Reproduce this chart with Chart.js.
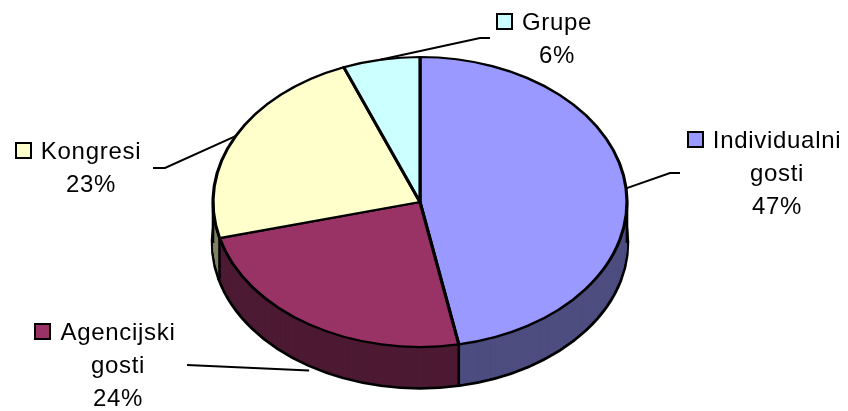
<!DOCTYPE html>
<html><head><meta charset="utf-8">
<script src="https://cdn.jsdelivr.net/npm/chart.js@4/dist/chart.umd.min.js"></script>
<style>html,body{margin:0;padding:0;background:#fff;}</style>
</head><body>
<canvas id="c" width="848" height="411"></canvas>
<script>
// ---- data ----
const categories = [['Individualni', 'gosti'], ['Agencijski', 'gosti'], ['Kongresi'], ['Grupe']];
const values = [47, 24, 23, 6];
// ---- styles ----
const topColors = ['#9999FF', '#993366', '#FFFFCC', '#CCFFFF'];
const sideColors = ['#4D4D80', '#4D1A33', '#808066', '#668080'];

const K = 145 / 207;   // vertical squash for the 3D tilt
const DEPTH = 41;      // thickness of the pie
const LINE_H = 33;

// label placement (text center x, first baseline y, leader elbow points)
const labelLayout = [
  { cx: 777, y: 148, elbow: [[680, 173], [670, 173]] },
  { cx: 118, y: 340, elbow: [[187, 365]], extra: 5 },
  { cx: 91,  y: 159, elbow: [[153, 168], [165, 168]] },
  { cx: 557, y: 30,  elbow: [[490, 38], [480, 38]] }
];

function drawLabels(chart) {
  const ctx = chart.ctx;
  const arcs = chart.getDatasetMeta(0).data;
  const total = values.reduce((a, b) => a + b, 0);
  ctx.save();
  ctx.font = '24px "Liberation Sans", Arial, sans-serif';
  try { ctx.letterSpacing = '0.7px'; } catch (e) {}
  ctx.textAlign = 'center';
  ctx.textBaseline = 'alphabetic';
  arcs.forEach((arc, i) => {
    const L = labelLayout[i];
    const lines = categories[i].concat([Math.round(values[i] / total * 100) + '%']);
    ctx.fillStyle = '#000';
    lines.forEach((t, j) => ctx.fillText(t, L.cx, L.y + j * LINE_H));
    const w = ctx.measureText(lines[0]).width;
    const kx = Math.round(L.cx - w / 2 - 10 - 15);
    ctx.fillStyle = topColors[i];
    ctx.fillRect(kx, L.y - 16, 15, 15);
    ctx.strokeStyle = '#000';
    ctx.lineWidth = 2;
    ctx.strokeRect(kx, L.y - 16, 15, 15);
    // leader line
    const mid = (arc.startAngle + arc.endAngle) / 2;
    const px = arc.x + arc.outerRadius * Math.cos(mid);
    let py = arc.y + arc.outerRadius * K * Math.sin(mid);
    if (Math.sin(mid) > 0.3) py += DEPTH + (L.extra || 0);
    ctx.beginPath();
    ctx.moveTo(L.elbow[0][0], L.elbow[0][1]);
    L.elbow.slice(1).forEach(p => ctx.lineTo(p[0], p[1]));
    ctx.lineTo(px, py);
    ctx.lineWidth = 2;
    ctx.stroke();
  });
  ctx.restore();
}

const pie3d = {
  id: 'pie3d',
  beforeDatasetsDraw(chart) {
    const ctx = chart.ctx;
    const arcs = chart.getDatasetMeta(0).data;
    const cx = arcs[0].x, cy = arcs[0].y, r = arcs[0].outerRadius;
    // side walls: stacked copies of the library's arcs, darker
    for (let d = DEPTH; d >= 1; d--) {
      ctx.save();
      ctx.translate(cx, cy + d);
      ctx.scale(1, K);
      ctx.translate(-cx, -cy);
      arcs.forEach((arc, i) => {
        const o = Object.create(arc);
        o.options = Object.assign({}, arc.options, {
          backgroundColor: sideColors[i],
          borderColor: d === DEPTH ? '#000' : sideColors[i],
          borderWidth: d === DEPTH ? 4.6 : 0
        });
        o.draw(ctx);
      });
      ctx.restore();
    }
    // vertical edges on the visible front
    ctx.save();
    ctx.strokeStyle = '#000';
    ctx.lineWidth = 2.6;
    const edges = arcs.map(a => a.startAngle).concat([0, Math.PI]);
    edges.forEach(a => {
      if (Math.sin(a) > -1e-6) {
        const x = cx + r * Math.cos(a);
        const y = cy + r * K * Math.sin(a);
        ctx.beginPath();
        ctx.moveTo(x, y);
        ctx.lineTo(x, y + DEPTH);
        ctx.stroke();
      }
    });
    ctx.restore();
    // top face: tilt the library's own drawing
    ctx.save();
    ctx.translate(cx, cy);
    ctx.scale(1, K);
    ctx.translate(-cx, -cy);
  },
  afterDatasetsDraw(chart) {
    chart.ctx.restore();
    drawLabels(chart);
  }
};

new Chart(document.getElementById('c'), {
  type: 'pie',
  data: {
    labels: categories.map(c => c.join(' ')),
    datasets: [{
      data: values,
      backgroundColor: topColors,
      borderColor: '#000',
      borderWidth: 3.2,
      borderJoinStyle: 'round',
      radius: 207,
      clip: false
    }]
  },
  options: {
    responsive: false,
    animation: false,
    events: [],
    radius: 207,
    layout: { padding: { left: 0, right: 8, top: 0, bottom: 7 } },
    plugins: { legend: { display: false }, tooltip: { enabled: false } }
  },
  plugins: [pie3d]
});
</script>
</body></html>
